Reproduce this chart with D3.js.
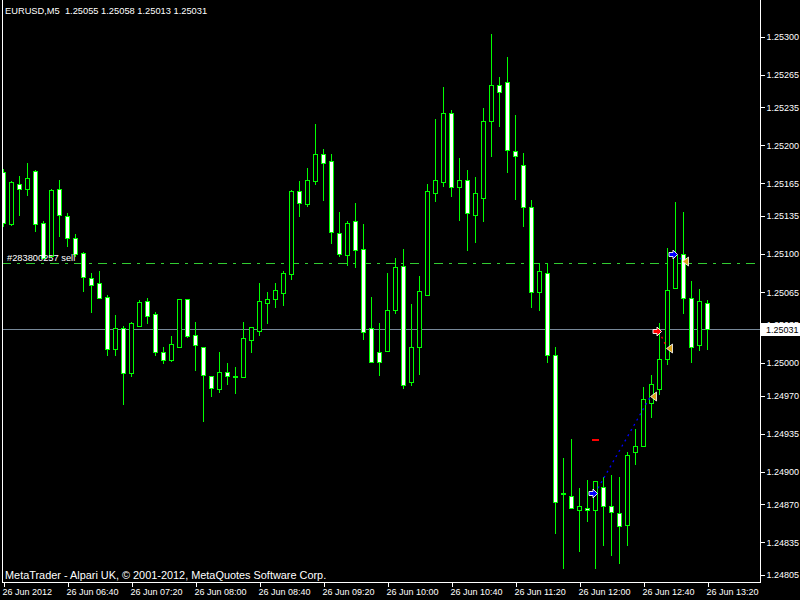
<!DOCTYPE html>
<html><head><meta charset="utf-8">
<script src="https://cdn.jsdelivr.net/npm/d3@7"></script>
<style>
body{margin:0;background:#000}
svg{display:block}
text{font-family:"Liberation Sans",Arial,sans-serif;white-space:pre;}
</style>
</head><body>
<svg id="c" width="800" height="600"></svg>
<script>
// ---------- DATA ----------
const titleText = "EURUSD,M5  1.25055 1.25058 1.25013 1.25031";
const copyrightText = "MetaTrader - Alpari UK, \u00A9 2001-2012, MetaQuotes Software Corp.";

const open = [
1.25175,1.25128,1.25164,1.25160,1.25176,1.25129,1.25098,1.25160,1.25135,1.25115,
1.25101,1.25078,1.25073,1.25061,1.25013,1.25032,1.24991,1.25034,1.25057,1.25045,
1.25010,1.25003,1.25015,1.25059,1.25026,1.25015,1.24988,1.24976,1.24992,1.24988,
1.24987,1.25021,1.25029,1.25055,1.25059,1.25064,1.25082,1.25158,1.25146,1.25167,
1.25192,1.25186,1.25119,1.25099,1.25130,1.25105,1.25032,1.25010,1.25011,1.25049,
1.25089,1.24982,1.25015,1.25062,1.25156,1.25166,1.25230,1.25162,1.25168,1.25136,
1.25152,1.25222,1.25255,1.25258,1.25195,1.25182,1.25143,1.25065,1.25083,1.25007,
1.24880,1.24878,1.24865,1.24867,1.24865,1.24886,1.24868,1.24862,1.24851,1.24918,
1.24924,1.24963,1.24976,1.25004,1.25069,1.25100,1.25060,1.25016,1.25055];
const high = [
1.25178,1.25167,1.25172,1.25184,1.25177,1.25130,1.25160,1.25168,1.25138,1.25118,
1.25102,1.25083,1.25084,1.25062,1.25044,1.25034,1.25038,1.25058,1.25060,1.25047,
1.25015,1.25025,1.25059,1.25059,1.25038,1.25015,1.24988,1.25010,1.25000,1.24996,
1.25038,1.25033,1.25073,1.25065,1.25073,1.25084,1.25159,1.25167,1.25179,1.25220,
1.25197,1.25192,1.25139,1.25130,1.25147,1.25128,1.25061,1.25037,1.25083,1.25096,
1.25105,1.25054,1.25080,1.25164,1.25224,1.25254,1.25232,1.25188,1.25177,1.25171,
1.25234,1.25302,1.25263,1.25281,1.25228,1.25193,1.25150,1.25092,1.25092,1.25015,
1.24913,1.24930,1.24885,1.24892,1.24891,1.24895,1.24897,1.24895,1.24918,1.24939,
1.24978,1.24989,1.25037,1.25106,1.25148,1.25139,1.25075,1.25068,1.25058];
const low = [
1.25126,1.25127,1.25136,1.25154,1.25121,1.25096,1.25097,1.25117,1.25107,1.25098,
1.25066,1.25047,1.25060,1.25007,1.25007,1.24962,1.24988,1.25034,1.25037,1.25007,
1.25000,1.25002,1.25015,1.25024,1.24993,1.24947,1.24970,1.24973,1.24981,1.24972,
1.24987,1.25010,1.25026,1.25037,1.25051,1.25053,1.25077,1.25135,1.25144,1.25164,
1.25150,1.25110,1.25098,1.25090,1.25088,1.25022,1.25001,1.24989,1.25011,1.25046,
1.24977,1.24980,1.24990,1.25062,1.25149,1.25163,1.25153,1.25131,1.25104,1.25111,
1.25130,1.25190,1.25218,1.25175,1.25151,1.25126,1.25051,1.25049,1.25001,1.24844,
1.24811,1.24867,1.24827,1.24855,1.24811,1.24833,1.24823,1.24816,1.24833,1.24907,
1.24924,1.24950,1.24971,1.24999,1.25069,1.25046,1.25001,1.25012,1.25013];
const close = [
1.25129,1.25166,1.25160,1.25170,1.25128,1.25096,1.25159,1.25136,1.25115,1.25100,
1.25079,1.25072,1.25060,1.25013,1.25032,1.24991,1.25037,1.25056,1.25043,1.25010,
1.25003,1.25017,1.25059,1.25025,1.25016,1.24989,1.24977,1.24992,1.24988,1.24987,
1.25023,1.25033,1.25057,1.25059,1.25067,1.25083,1.25158,1.25147,1.25168,1.25192,
1.25184,1.25120,1.25100,1.25129,1.25104,1.25028,1.25001,1.25001,1.25049,1.25088,
1.24980,1.25015,1.25066,1.25158,1.25168,1.25230,1.25162,1.25168,1.25138,1.25156,
1.25222,1.25255,1.25249,1.25196,1.25190,1.25143,1.25065,1.25084,1.25007,1.24872,
1.24879,1.24867,1.24868,1.24865,1.24891,1.24868,1.24863,1.24850,1.24915,1.24924,
1.24967,1.24981,1.25004,1.25067,1.25099,1.25060,1.25015,1.25057,1.25031];

const priceTicks = [1.25300,1.25265,1.25235,1.25200,1.25165,1.25135,1.25100,1.25065,
                    1.25035,1.25000,1.24970,1.24935,1.24900,1.24870,1.24835,1.24805];
const timeTickBars = [0,8,16,24,32,40,48,56,64,72,80,88];
const timeTickLabels = ["26 Jun 2012","26 Jun 06:40","26 Jun 07:20","26 Jun 08:00",
  "26 Jun 08:40","26 Jun 09:20","26 Jun 10:00","26 Jun 10:40","26 Jun 11:20",
  "26 Jun 12:00","26 Jun 12:40","26 Jun 13:20"];

const currentPrice = 1.25031;
const orderLevel = 1.25092;
const orderLabel = "#283800257 sell";

const openMarkBars   = [74, 82, 84];
const openMarkPrices = [1.24880, 1.25029, 1.25100];
const openMarkTypes  = ["buy", "sell", "buy"];
const closeMarkBars   = [81, 83, 85];
const closeMarkPrices = [1.24970, 1.25014, 1.25094];
const stopBars   = [74];
const stopPrices = [1.24929];

// ---------- DRAW ----------
const W = 800, H = 600;
const plotRight = 760, plotBottom = 582, plotLeft = 2;
const svg = d3.select("#c");
svg.append("rect").attr("width", W).attr("height", H).attr("fill", "#000");

const x = d3.scaleLinear().domain([0, 88]).range([3, 707]);
const y = d3.scaleLinear().domain([1.24805, 1.25300]).range([575, 36.5]);
const py = v => Math.round(y(v)) + 0.5;
const pxc = i => Math.round(x(i)) + 0.5;

svg.append("defs").append("clipPath").attr("id", "plot")
  .append("rect").attr("x", plotLeft + 1).attr("y", 0)
  .attr("width", plotRight - plotLeft - 1).attr("height", plotBottom);

const g = svg.append("g").attr("clip-path", "url(#plot)").attr("shape-rendering", "crispEdges");

// order level (dash-dot)
g.append("line").attr("x1", plotLeft).attr("x2", plotRight)
  .attr("y1", py(orderLevel)).attr("y2", py(orderLevel))
  .attr("stroke", "#32cd32").attr("stroke-dasharray", "9,6,3,6");
// current price line
g.append("line").attr("x1", plotLeft).attr("x2", plotRight)
  .attr("y1", py(currentPrice)).attr("y2", py(currentPrice))
  .attr("stroke", "#778899");

// candles
const idx = d3.range(open.length);
const cg = g.append("g");
cg.selectAll("line.wick").data(idx).join("line").attr("class", "wick")
  .attr("x1", i => pxc(i)).attr("x2", i => pxc(i))
  .attr("y1", i => Math.round(y(high[i]))).attr("y2", i => Math.round(y(low[i])) + 1)
  .attr("stroke", "#00ff00");
cg.selectAll("rect.body").data(idx).join("rect").attr("class", "body")
  .attr("x", i => pxc(i) - 2)
  .attr("y", i => Math.round(y(Math.max(open[i], close[i]))) + 0.5)
  .attr("width", 4)
  .attr("height", i => Math.max(0, Math.round(y(Math.min(open[i], close[i]))) - Math.round(y(Math.max(open[i], close[i])))))
  .attr("fill", i => close[i] < open[i] ? "#ffffff" : "#000000")
  .attr("stroke", "#00ff00");

// trade links (dotted)
const mg = svg.append("g");
openMarkBars.forEach((b, j) => {
  mg.append("line")
    .attr("x1", x(b)).attr("y1", y(openMarkPrices[j]))
    .attr("x2", x(closeMarkBars[j])).attr("y2", y(closeMarkPrices[j]))
    .attr("stroke", openMarkTypes[j] === "buy" ? "#0000ff" : "#ff0000")
    .attr("stroke-width", 1.3).attr("stroke-dasharray", "2,4");
});
// stop-loss dashes
stopBars.forEach((b, j) => {
  mg.append("rect").attr("x", Math.round(x(b)) - 3).attr("y", Math.round(y(stopPrices[j])) - 1)
    .attr("width", 7).attr("height", 2).attr("fill", "#ff0000");
});
// open arrows (pointing right, tip at bar)
openMarkBars.forEach((b, j) => {
  const tx = Math.round(x(b)) + 2.5, ty = Math.round(y(openMarkPrices[j])) + 0.5;
  const pts = [[0,0],[-4.5,-4.5],[-4.5,-2],[-8.5,-2],[-8.5,2],[-4.5,2],[-4.5,4.5]]
    .map(p => [tx + p[0], ty + p[1]].join(",")).join(" ");
  mg.append("polygon").attr("points", pts)
    .attr("fill", openMarkTypes[j] === "buy" ? "#0000ff" : "#ff0000")
    .attr("stroke", "#ffffff").attr("stroke-width", 0.9);
});
// close triangles (pointing left)
closeMarkBars.forEach((b, j) => {
  const tx = Math.round(x(b)) - 0.5, ty = Math.round(y(closeMarkPrices[j])) + 0.5;
  const pts = [[0,0],[6,-4.5],[6,4.5]].map(p => [tx + p[0], ty + p[1]].join(",")).join(" ");
  mg.append("polygon").attr("points", pts)
    .attr("fill", "#daa520").attr("stroke", "#ffffff").attr("stroke-width", 0.8);
});

// order label
svg.append("text").attr("x", 7).attr("y", py(orderLevel) - 3)
  .attr("fill", "#fff").attr("font-size", "9.3px").text(orderLabel);

// frame
const fr = svg.append("g").attr("shape-rendering", "crispEdges").attr("stroke", "#fff");
fr.append("line").attr("x1", plotLeft + 0.5).attr("x2", plotLeft + 0.5).attr("y1", 0).attr("y2", plotBottom + 0.5);
fr.append("line").attr("x1", plotRight + 0.5).attr("x2", plotRight + 0.5).attr("y1", 0).attr("y2", plotBottom + 0.5);
fr.append("line").attr("x1", plotLeft).attr("x2", plotRight + 1).attr("y1", plotBottom + 0.5).attr("y2", plotBottom + 0.5);

// right price axis
const yAxis = d3.axisRight(y).tickValues(priceTicks).tickFormat(d3.format(".5f"))
  .tickSize(4).tickSizeOuter(0).tickPadding(2);
const ya = svg.append("g").attr("transform", `translate(${plotRight + 0.5},0)`).call(yAxis);
ya.select(".domain").remove();
ya.selectAll(".tick line").attr("stroke", "#fff").attr("shape-rendering", "crispEdges");
ya.selectAll(".tick text").attr("fill", "#fff").attr("font-size", "9px")
  .attr("font-family", "'Liberation Sans',Arial,sans-serif");

// current price box (covers the tick label underneath, as in the terminal)
const cpY = Math.round(y(currentPrice));
svg.append("rect").attr("x", plotRight + 1).attr("y", cpY - 6).attr("width", W - plotRight - 1).attr("height", 13)
  .attr("fill", "#fff");
svg.append("text").attr("x", plotRight + 6).attr("y", cpY + 4).attr("fill", "#000")
  .attr("font-size", "9px").text(d3.format(".5f")(currentPrice));

// bottom time axis
const xAxis = d3.axisBottom(x).tickValues(timeTickBars)
  .tickFormat((d, i) => timeTickLabels[i]).tickSize(4).tickSizeOuter(0).tickPadding(2);
const xa = svg.append("g").attr("transform", `translate(0.5,${plotBottom + 0.5})`).call(xAxis);
xa.select(".domain").remove();
xa.selectAll(".tick line").attr("stroke", "#fff").attr("shape-rendering", "crispEdges");
xa.selectAll(".tick text").attr("fill", "#fff").attr("font-size", "9px")
  .attr("text-anchor", "start").attr("dx", "-1.5")
  .attr("font-family", "'Liberation Sans',Arial,sans-serif");

// title & copyright
svg.append("text").attr("x", 5).attr("y", 14).attr("fill", "#fff").attr("font-size", "9.3px")
  .attr("xml:space", "preserve").text(titleText);
svg.append("text").attr("x", 5).attr("y", 579).attr("fill", "#fff").attr("font-size", "10.9px").text(copyrightText);
</script>
</body></html>
